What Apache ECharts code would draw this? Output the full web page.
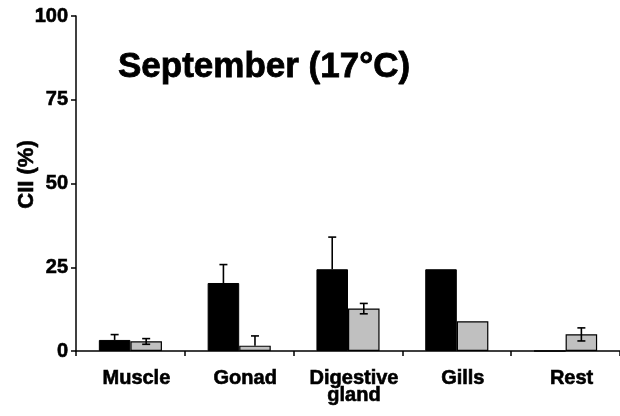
<!DOCTYPE html>
<html>
<head>
<meta charset="utf-8">
<script src="https://cdn.jsdelivr.net/npm/echarts@6/dist/echarts.min.js"></script>
<style>html,body{margin:0;padding:0;background:#fff}#c{width:620px;height:416px}</style>
</head>
<body>
<div id="c"></div>
<script>
const categories = ['Muscle', 'Gonad', 'Digestive\ngland', 'Gills', 'Rest'];
const blackValues = [3.3, 20.3, 24.4, 24.4, 0];
const blackErrHigh = [4.9, 25.8, 34.0, null, null];
const greyValues = [2.9, 1.6, 12.7, 8.9, 5.0];
const greyErrHigh = [3.7, 4.5, 14.2, null, 6.9];
const greyErrLow = [2.0, null, 11.1, null, 3.0];
const yTicks = [0, 25, 50, 75, 100];

const chart = echarts.init(document.getElementById('c'), null, {renderer: 'canvas'});
const FONT = '"Liberation Sans", Arial, sans-serif';

function errSeries(highs, lows, side) {
  const data = categories.map((c, i) => [i, highs[i], lows ? lows[i] : null, side === 0 ? blackValues[i] : greyValues[i]]);
  return {
    type: 'custom',
    z: 5,
    silent: true,
    data: data,
    renderItem: function (params, api) {
      const hi = api.value(1);
      if (hi === null || hi === undefined || isNaN(hi)) return null;
      const lo = api.value(2);
      const val = api.value(3);
      const band = api.size([1, 0])[0];
      const off = band * 0.58 / 4 * (side === 0 ? -1 : 1);
      const pHi = api.coord([api.value(0), hi]);
      const x = pHi[0] + off;
      const children = [];
      const cap = 4;
      const style = {stroke: '#000', lineWidth: 1.6};
      const pVal = api.coord([api.value(0), val]);
      let bottomY = pVal[1];
      if (lo !== null && lo !== undefined && !isNaN(lo)) {
        const pLo = api.coord([api.value(0), lo]);
        bottomY = pLo[1];
        children.push({type: 'line', shape: {x1: x - cap, y1: pLo[1], x2: x + cap, y2: pLo[1]}, style: style});
      }
      children.push({type: 'line', shape: {x1: x, y1: pHi[1], x2: x, y2: bottomY}, style: style});
      children.push({type: 'line', shape: {x1: x - cap, y1: pHi[1], x2: x + cap, y2: pHi[1]}, style: style});
      return {type: 'group', children: children};
    }
  };
}

chart.setOption({
  animation: false,
  backgroundColor: '#fff',
  title: {
    text: 'September (17°C)',
    left: 113, top: 45,
    textStyle: {fontFamily: FONT, fontWeight: 'bold', fontSize: 35, color: '#000', textBorderColor: '#000', textBorderWidth: 0.8}
  },
  grid: {left: 76, right: 0, top: 16, bottom: 65, containLabel: false, outerBoundsMode: 'none'},
  xAxis: {
    type: 'category',
    data: categories,
    axisLine: {lineStyle: {color: '#000', width: 1.5}},
    axisTick: {show: true, length: 5, lineStyle: {color: '#000', width: 1.5}},
    axisLabel: {
      interval: 0, margin: 19, color: '#000', fontFamily: FONT, fontWeight: 'bold', fontSize: 20, lineHeight: 17,
      textBorderColor: '#000', textBorderWidth: 0.6,
      padding: [0, 0, 0, 12]
    }
  },
  yAxis: {
    type: 'value',
    min: 0, max: 100, interval: 25,
    name: 'CII (%)',
    nameLocation: 'middle',
    nameGap: 38,
    nameMoveOverlap: false,
    nameTextStyle: {fontFamily: FONT, fontWeight: 'bold', fontSize: 22, color: '#000', textBorderColor: '#000', textBorderWidth: 0.6, padding: [0, 0, 0, 18]},
    axisLine: {show: true, lineStyle: {color: '#000', width: 1.5}},
    axisTick: {show: true, length: 5, lineStyle: {color: '#000', width: 1.5}},
    splitLine: {show: false},
    axisLabel: {
      margin: 8, color: '#000', fontFamily: FONT, fontWeight: 'bold', fontSize: 20,
      textBorderColor: '#000', textBorderWidth: 0.6,
      formatter: function (v) { return yTicks.indexOf(v) >= 0 ? String(v) : ''; }
    }
  },
  series: [
    {
      type: 'bar', data: blackValues, barGap: '0%', barCategoryGap: '42%',
      itemStyle: {color: '#000', borderColor: '#000', borderWidth: 1}
    },
    {
      type: 'bar', data: greyValues, barGap: '0%', barCategoryGap: '42%',
      itemStyle: {color: '#c0c0c0', borderColor: '#000', borderWidth: 1.2}
    },
    errSeries(blackErrHigh, null, 0),
    errSeries(greyErrHigh, greyErrLow, 1)
  ]
});
</script>
</body>
</html>
